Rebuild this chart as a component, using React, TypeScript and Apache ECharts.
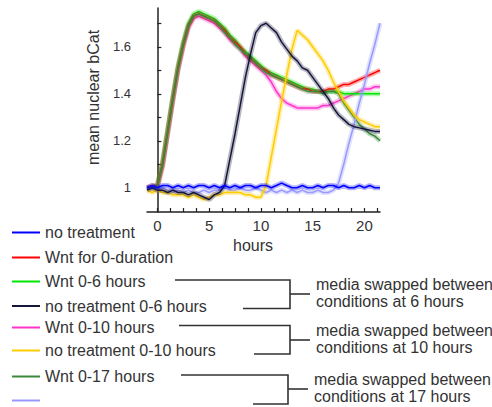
import React, { useEffect, useRef } from "react";
import * as echarts from "echarts";

// ---- data ----
const HOURS = [-1, -0.5, 0, 0.5, 1, 1.5, 2, 2.5, 3, 3.5, 4, 4.5, 5, 5.5, 6, 6.5, 7, 7.5, 8, 8.5, 9, 9.5, 10, 10.5, 11, 11.5, 12, 12.5, 13, 13.5, 14, 14.5, 15, 15.5, 16, 16.5, 17, 17.5, 18, 18.5, 19, 19.5, 20, 20.5, 21, 21.5];

const NO_TREATMENT = [1.0, 1.01, 1.0, 1.01, 1.01, 1.0, 1.01, 1.0, 1.01, 1.0, 1.01, 1.01, 1.0, 1.01, 1.0, 1.01, 1.0, 1.01, 1.0, 1.01, 1.01, 1.0, 1.01, 1.01, 1.0, 1.01, 1.02, 1.01, 1.0, 1.0, 1.01, 1.0, 1.0, 1.01, 1.0, 1.01, 1.01, 1.0, 1.01, 1.0, 1.0, 1.01, 1.0, 1.01, 1.0, 1.0];
const WNT_CONTINUOUS = [1.0, 1.01, 1.01, 1.1, 1.24, 1.38, 1.51, 1.61, 1.69, 1.73, 1.74, 1.73, 1.72, 1.71, 1.69, 1.67, 1.64, 1.62, 1.6, 1.57, 1.55, 1.53, 1.51, 1.5, 1.48, 1.47, 1.46, 1.45, 1.44, 1.43, 1.42, 1.42, 1.41, 1.41, 1.41, 1.42, 1.42, 1.43, 1.44, 1.44, 1.45, 1.46, 1.47, 1.48, 1.49, 1.5];
const WNT_0_6 = [1.0, 1.0, 1.01, 1.11, 1.25, 1.39, 1.52, 1.62, 1.7, 1.74, 1.75, 1.74, 1.73, 1.72, 1.7, 1.68, 1.65, 1.63, 1.6, 1.58, 1.56, 1.54, 1.52, 1.5, 1.49, 1.48, 1.47, 1.46, 1.45, 1.44, 1.43, 1.42, 1.42, 1.41, 1.41, 1.41, 1.41, 1.41, 1.4, 1.4, 1.4, 1.4, 1.4, 1.4, 1.4, 1.4];
const NO_TREATMENT_0_6 = [0.99, 1.0, 0.99, 0.99, 0.98, 0.99, 0.98, 0.98, 0.97, 0.98, 0.97, 0.96, 0.95, 0.97, 0.98, 1.01, 1.12, 1.23, 1.35, 1.47, 1.57, 1.66, 1.69, 1.7, 1.68, 1.66, 1.62, 1.59, 1.56, 1.54, 1.51, 1.5, 1.47, 1.44, 1.41, 1.38, 1.34, 1.31, 1.29, 1.27, 1.26, 1.255, 1.25, 1.245, 1.24, 1.24];
const WNT_0_10 = [1.0, 1.0, 1.0, 1.09, 1.23, 1.37, 1.5, 1.6, 1.68, 1.72, 1.73, 1.72, 1.71, 1.7, 1.68, 1.66, 1.63, 1.61, 1.59, 1.56, 1.54, 1.52, 1.5, 1.48, 1.45, 1.41, 1.38, 1.36, 1.35, 1.34, 1.34, 1.34, 1.34, 1.34, 1.35, 1.35, 1.36, 1.37, 1.38, 1.39, 1.4, 1.41, 1.42, 1.42, 1.43, 1.43];
const NO_TREATMENT_0_10 = [0.99, 0.98, 0.99, 0.98, 0.98, 0.97, 0.97, 0.97, 0.96, 0.97, 0.96, 0.95, 0.96, 0.97, 0.97, 0.98, 0.98, 0.98, 0.98, 0.97, 0.97, 0.96, 0.96, 1.01, 1.13, 1.25, 1.37, 1.48, 1.59, 1.67, 1.65, 1.63, 1.6, 1.57, 1.54, 1.5, 1.45, 1.41, 1.37, 1.34, 1.31, 1.29, 1.28, 1.27, 1.26, 1.26];
const WNT_0_17 = [1.0, 1.0, 1.01, 1.1, 1.24, 1.38, 1.51, 1.61, 1.69, 1.73, 1.74, 1.73, 1.72, 1.71, 1.69, 1.66, 1.64, 1.61, 1.59, 1.57, 1.55, 1.53, 1.51, 1.49, 1.48, 1.47, 1.46, 1.45, 1.44, 1.43, 1.42, 1.41, 1.41, 1.41, 1.4, 1.41, 1.41, 1.4, 1.36, 1.33, 1.3, 1.27, 1.25, 1.23, 1.22, 1.2];
const NO_TREATMENT_0_17 = [0.99, 1.0, 0.99, 1.0, 0.99, 0.98, 0.99, 0.98, 0.99, 0.98, 0.98, 0.99, 0.98, 0.99, 0.99, 1.0, 0.99, 0.99, 1.0, 0.99, 0.99, 1.0, 0.99, 0.98, 0.99, 0.98, 0.99, 0.98, 0.99, 0.98, 0.99, 0.98, 0.98, 0.99, 0.98, 0.98, 0.99, 1.02, 1.1, 1.19, 1.27, 1.36, 1.44, 1.53, 1.61, 1.7];

const LEGEND_NAMES = [
  "no treatment",
  "Wnt for 0-duration",
  "Wnt 0-6 hours",
  "no treatment 0-6 hours",
  "Wnt 0-10 hours",
  "no treatment 0-10 hours",
  "Wnt 0-17 hours",
  "",
];
const COLORS = ["#0000ff", "#ff0000", "#00e600", "#16163c", "#ff33cc", "#ffcc00", "#3a883a", "#9999ff"];
const VALUES = [NO_TREATMENT, WNT_CONTINUOUS, WNT_0_6, NO_TREATMENT_0_6, WNT_0_10, NO_TREATMENT_0_10, WNT_0_17, NO_TREATMENT_0_17];
// drawing order (back to front)
const DRAW_ORDER = [4, 2, 1, 6, 7, 5, 3, 0];

const X_TICKS = [0, 1.25, 2.5, 3.75, 5, 6.25, 7.5, 8.75, 10, 11.25, 12.5, 13.75, 15, 16.25, 17.5, 18.75, 20, 21.25];
const X_LABELS = [0, 5, 10, 15, 20];
const Y_TICKS = [1.0, 1.1, 1.2, 1.3, 1.4, 1.5, 1.6, 1.7];
const Y_LABELS = [1.0, 1.2, 1.4, 1.6];

const X_TITLE = "hours";
const Y_TITLE = "mean nuclear bCat";
const BRACKET_TEXTS = [
  "media swapped between\nconditions at 6 hours",
  "media swapped between\nconditions at 10 hours",
  "media swapped between\nconditions at 17 hours",
];

// ---- layout ----
const FONT = "Liberation Sans, Arial, sans-serif";
const TEXT_COLOR = "#333";
const LEGEND_Y = [232.5, 257.5, 281.5, 306, 327.5, 350.5, 376.5, 400.5];
const BRACKETS = [
  { topY: 280, topX: 175, botY: 308.5, botX: 243, vx: 290, tickY: 294, textX: 316, textY: 293 },
  { topY: 325.5, topX: 179, botY: 354, botX: 254, vx: 290, tickY: 340, textX: 316, textY: 339 },
  { topY: 375, topX: 181, botY: 404, botX: 253, vx: 288, tickY: 389, textX: 314, textY: 388 },
];

export default function App() {
  const ref = useRef<HTMLDivElement>(null);

  useEffect(() => {
    document.body.style.margin = "0";
    if (!ref.current) return;
    const chart = echarts.init(ref.current, null, { renderer: "svg" });

    const series: any[] = [];
    DRAW_ORDER.forEach((idx, k) => {
      const data = HOURS.map((t, i) => [t, VALUES[idx][i]]);
      series.push({
        type: "line",
        name: (LEGEND_NAMES[idx] || "series " + idx) + " error",
        data,
        symbol: "none",
        silent: true,
        z: 2 + k * 2,
        lineStyle: { color: COLORS[idx], width: 5, opacity: 0.3 },
      });
      series.push({
        type: "line",
        name: LEGEND_NAMES[idx] || "series " + idx,
        data,
        symbol: "none",
        silent: true,
        z: 3 + k * 2,
        lineStyle: { color: COLORS[idx], width: 1.5 },
      });
    });

    const graphic: any[] = [];
    LEGEND_NAMES.forEach((name, i) => {
      graphic.push({
        type: "line",
        shape: { x1: 12, y1: LEGEND_Y[i], x2: 40, y2: LEGEND_Y[i] },
        style: { stroke: COLORS[i], lineWidth: 2 },
      });
      if (name) {
        graphic.push({
          type: "text",
          x: 45,
          y: LEGEND_Y[i],
          style: { text: name, fill: TEXT_COLOR, fontSize: 16, fontFamily: FONT, align: "left", verticalAlign: "middle" },
        });
      }
    });
    BRACKETS.forEach((b, i) => {
      graphic.push({
        type: "polyline",
        shape: { points: [[b.topX, b.topY], [b.vx, b.topY], [b.vx, b.botY], [b.botX, b.botY]] },
        style: { stroke: "#333", lineWidth: 1.6, fill: null },
      });
      graphic.push({
        type: "line",
        shape: { x1: b.vx, y1: b.tickY, x2: b.vx + 20, y2: b.tickY },
        style: { stroke: "#333", lineWidth: 1.6 },
      });
      graphic.push({
        type: "text",
        x: b.textX,
        y: b.textY,
        style: { text: BRACKET_TEXTS[i], fill: TEXT_COLOR, fontSize: 16, lineHeight: 16.5, fontFamily: FONT, align: "left", verticalAlign: "middle" },
      });
    });
    graphic.push({
      type: "text",
      x: 253,
      y: 245.5,
      style: { text: X_TITLE, fill: TEXT_COLOR, fontSize: 16, fontFamily: FONT, align: "center", verticalAlign: "middle" },
    });
    graphic.push({
      type: "text",
      x: 93,
      y: 97.5,
      rotation: Math.PI / 2,
      style: { text: Y_TITLE, fill: TEXT_COLOR, fontSize: 16, fontFamily: FONT, align: "center", verticalAlign: "middle" },
    });

    chart.setOption({
      animation: false,
      backgroundColor: "#ffffff",
      grid: { left: 147, right: 112, top: 8, bottom: 195, containLabel: false },
      xAxis: {
        type: "value",
        min: -1,
        max: 21.5,
        axisLine: { show: true, lineStyle: { color: "#222", width: 1.5 } },
        axisTick: { show: true, inside: true, length: 4, customValues: X_TICKS, lineStyle: { color: "#222", width: 1.2 } },
        axisLabel: {
          customValues: X_LABELS,
          color: TEXT_COLOR,
          fontSize: 15,
          fontFamily: FONT,
          margin: 6,
          formatter: (v: number) => String(v),
        },
        splitLine: { show: false },
      },
      yAxis: {
        type: "value",
        min: 0.897,
        max: 1.765,
        axisLine: { show: true, lineStyle: { color: "#222", width: 1.5 } },
        axisTick: { show: true, inside: true, length: 4, customValues: Y_TICKS, lineStyle: { color: "#222", width: 1.2 } },
        axisLabel: {
          customValues: Y_LABELS,
          color: TEXT_COLOR,
          fontSize: 13,
          fontFamily: FONT,
          margin: 16,
          formatter: (v: number) => String(Math.round(v * 10) / 10),
        },
        splitLine: { show: false },
      },
      series,
      graphic,
    });

    return () => chart.dispose();
  }, []);

  return <div ref={ref} style={{ position: "absolute", left: 0, top: 0, width: 492, height: 407 }} />;
}
